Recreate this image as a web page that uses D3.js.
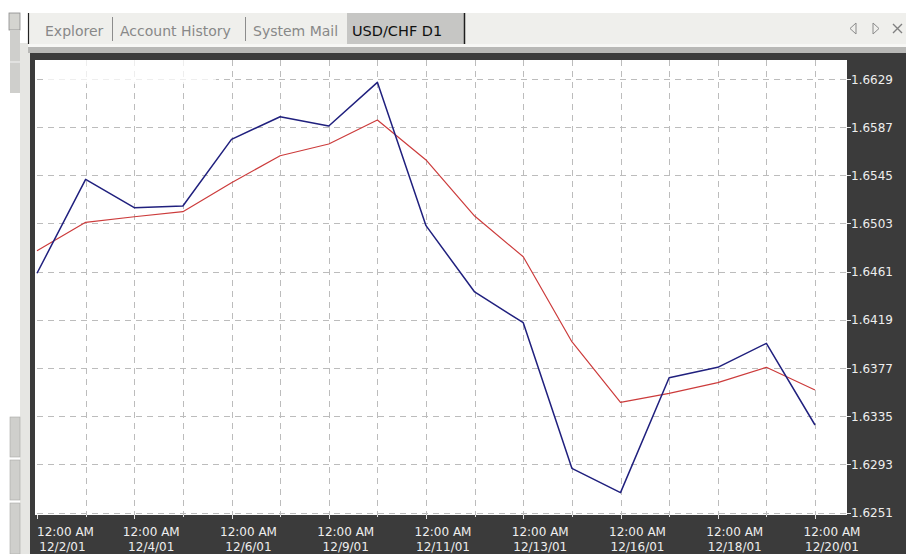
<!DOCTYPE html>
<html>
<head>
<meta charset="utf-8">
<script src="https://cdn.jsdelivr.net/npm/d3@7"></script>
<style>
  html, body { margin: 0; padding: 0; background: #ffffff; }
  svg { display: block; font-family: "DejaVu Sans", Verdana, sans-serif; }
</style>
</head>
<body>
<svg id="chart" width="906" height="554"></svg>
<script>
// bars of the USD/CHF daily chart (weekend days skipped)
const dates = ["12/2/01","12/3/01","12/4/01","12/5/01","12/6/01","12/7/01","12/9/01","12/10/01",
  "12/11/01","12/12/01","12/13/01","12/14/01","12/16/01","12/17/01","12/18/01","12/19/01","12/20/01"];

// close price (blue)
const closePrice = [1.64596, 1.65415, 1.65168, 1.65183, 1.65764, 1.65961, 1.65880, 1.66261,
  1.65011, 1.64433, 1.64165, 1.62895, 1.62683, 1.63685, 1.63776, 1.63985, 1.63273];

// moving average (red)
const movingAvg = [1.64793, 1.65040, 1.65089, 1.65133, 1.65386, 1.65621, 1.65723, 1.65932,
  1.65584, 1.65095, 1.64740, 1.63999, 1.63471, 1.63549, 1.63642, 1.63776, 1.63578];

const priceTicks = [1.6629, 1.6587, 1.6545, 1.6503, 1.6461, 1.6419, 1.6377, 1.6335, 1.6293, 1.6251];

const tabs = ["Explorer", "Account History", "System Mail"];
const activeTab = "USD/CHF D1";

const svg = d3.select("#chart");
const plot = { left: 35, right: 847, top: 60, bottom: 515 };

// ---- window chrome ----
// left strip
svg.append("rect").attr("x", 20).attr("y", 43).attr("width", 10).attr("height", 511).attr("fill", "#e6e6e3");
svg.append("rect").attr("x", 9).attr("y", 13).attr("width", 11).attr("height", 17)
  .attr("fill", "#d4d4d0").attr("stroke", "#8a8a8a").attr("stroke-width", 0.8);
svg.append("rect").attr("x", 10).attr("y", 30).attr("width", 10).attr("height", 63).attr("fill", "#cfcfcc");
svg.append("line").attr("x1", 10).attr("x2", 20).attr("y1", 62).attr("y2", 62).attr("stroke", "#f4f4f4");
[[417, 40], [460, 40], [503, 51]].forEach(([y, h]) => {
  svg.append("rect").attr("x", 10).attr("y", y).attr("width", 10).attr("height", h)
    .attr("fill", "#cfcfcc").attr("stroke", "#a9a9a6").attr("stroke-width", 0.6);
});

// tab bar
svg.append("rect").attr("x", 28).attr("y", 13).attr("width", 878).attr("height", 31).attr("fill", "#efefec");
svg.append("rect").attr("x", 28).attr("y", 44).attr("width", 878).attr("height", 3).attr("fill", "#f7f7f5");
svg.append("rect").attr("x", 28).attr("y", 47).attr("width", 878).attr("height", 6).attr("fill", "#b8b8b6");
svg.append("line").attr("x1", 28.5).attr("x2", 28.5).attr("y1", 13).attr("y2", 44).attr("stroke", "#222").attr("stroke-width", 1.2);

const tabX = [45, 120, 253];
const sepX = [112.5, 245.5];
tabs.forEach((t, i) => {
  svg.append("text").attr("x", tabX[i]).attr("y", 36).attr("font-size", 14)
    .attr("fill", "#888888").text(t);
});
sepX.forEach(x => {
  svg.append("line").attr("x1", x).attr("x2", x).attr("y1", 17).attr("y2", 41)
    .attr("stroke", "#8c8c8c").attr("stroke-width", 1);
});
svg.append("rect").attr("x", 347).attr("y", 13).attr("width", 117).attr("height", 31).attr("fill", "#c6c6c4");
svg.append("line").attr("x1", 464.5).attr("x2", 464.5).attr("y1", 13).attr("y2", 44).attr("stroke", "#1e1e1e").attr("stroke-width", 1.5);
svg.append("text").attr("x", 352).attr("y", 36).attr("font-size", 14.5).attr("fill", "#111").text(activeTab);

// scroll arrows and close
svg.append("path").attr("d", "M856,23 L850,28.5 L856,34 Z").attr("fill", "none").attr("stroke", "#8a8a8a").attr("stroke-width", 1);
svg.append("path").attr("d", "M873,23 L879,28.5 L873,34 Z").attr("fill", "none").attr("stroke", "#8a8a8a").attr("stroke-width", 1);
svg.append("path").attr("d", "M893,24 L902,33 M902,24 L893,33").attr("stroke", "#808080").attr("stroke-width", 1.4);

// dark chart frame
svg.append("rect").attr("x", 30).attr("y", 53).attr("width", 876).attr("height", 501).attr("fill", "#3b3b3b");
svg.append("rect").attr("x", plot.left).attr("y", plot.top)
  .attr("width", plot.right - plot.left).attr("height", plot.bottom - plot.top).attr("fill", "#ffffff");

// ---- scales ----
const x = d3.scalePoint().domain(dates).range([37, 815]);
const y = d3.scaleLinear().domain([1.6251, 1.6629]).range([512.5, 79]);

// ---- grid ----
const grid = svg.append("g").attr("stroke", "#bcbcbc").attr("stroke-width", 1)
  .attr("stroke-dasharray", "6,5");
grid.selectAll("line.v").data(dates.slice(1)).join("line")
  .attr("class", "v")
  .attr("x1", d => Math.round(x(d)) + 0.5).attr("x2", d => Math.round(x(d)) + 0.5)
  .attr("y1", plot.top).attr("y2", plot.bottom);
grid.selectAll("line.h").data(priceTicks).join("line")
  .attr("class", "h")
  .attr("x1", 37).attr("x2", plot.right)
  .attr("y1", d => Math.round(y(d)) + 0.5).attr("y2", d => Math.round(y(d)) + 0.5);

// faded area in the upper left corner
svg.append("rect").attr("x", 44).attr("y", plot.top).attr("width", 172).attr("height", 24)
  .attr("fill", "#ffffff").attr("opacity", 0.75);

// ---- lines ----
const line = vals => d3.line().x((d, i) => x(dates[i])).y(d => y(d))(vals);

svg.append("path").attr("d", line(movingAvg)).attr("fill", "none")
  .attr("stroke", "#cc3b3b").attr("stroke-width", 1.2).attr("stroke-linejoin", "round");
svg.append("path").attr("d", line(closePrice)).attr("fill", "none")
  .attr("stroke", "#20207e").attr("stroke-width", 1.5).attr("stroke-linejoin", "round");

// ---- right price axis ----
const yAxis = svg.append("g");
yAxis.selectAll("line").data(priceTicks).join("line")
  .attr("x1", plot.right).attr("x2", plot.right + 4)
  .attr("y1", d => Math.round(y(d)) + 0.5).attr("y2", d => Math.round(y(d)) + 0.5)
  .attr("stroke", "#e8e8e8");
yAxis.selectAll("text").data(priceTicks).join("text")
  .attr("x", 851).attr("y", d => y(d) + 4.5)
  .attr("font-size", 12).attr("fill", "#eeeeee")
  .text(d3.format(".4f"));

// ---- bottom time axis ----
const xAxis = svg.append("g");
xAxis.selectAll("line").data(dates).join("line")
  .attr("x1", d => Math.round(x(d)) + 0.5).attr("x2", d => Math.round(x(d)) + 0.5)
  .attr("y1", plot.bottom).attr("y2", (d, i) => plot.bottom + (i % 2 ? 2 : 4))
  .attr("stroke", "#e0e0e0");

const labelled = dates.filter((d, i) => i % 2 === 0);
labelled.forEach((d, i) => {
  const cx = x(d) + 17;
  const t1 = xAxis.append("text").attr("y", 536).attr("font-size", 12)
    .attr("fill", "#eeeeee").attr("text-anchor", "middle").text("12:00 AM");
  const t2 = xAxis.append("text").attr("y", 551).attr("font-size", 12)
    .attr("fill", "#eeeeee").attr("text-anchor", "middle").text(d);
  const w1 = t1.node().getComputedTextLength();
  t1.attr("x", Math.max(cx, 37 + w1 / 2));
  t2.attr("x", i === 0 ? 37 + w1 / 2 - 3 : cx);
});
</script>
</body>
</html>
